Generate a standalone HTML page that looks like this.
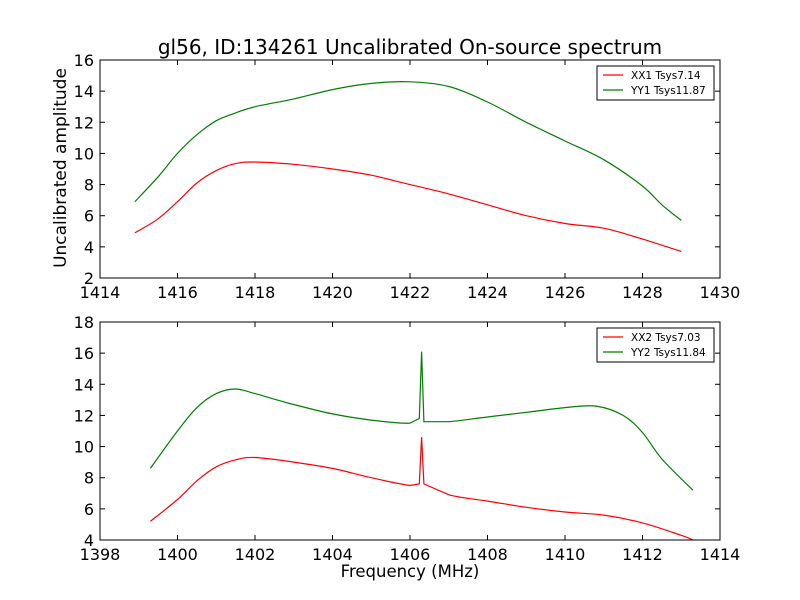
<!DOCTYPE html>
<html><head><meta charset="utf-8"><style>
body{margin:0;background:#fff;}
svg{display:block;font-family:"DejaVu Sans","Liberation Sans",sans-serif;}
</style></head><body>
<svg id="c" width="800" height="600" viewBox="0 0 800 600"></svg>
<script>
const topXX1X=[1414.9,1415.5,1416,1416.5,1417,1417.5,1418,1419,1420,1421,1422,1423,1424,1425,1426,1427,1428,1429];
const topXX1Y=[4.9,5.8,6.9,8.1,8.9,9.35,9.45,9.3,9.0,8.6,8.0,7.4,6.7,6.0,5.5,5.2,4.5,3.7];
const topYY1X=[1414.9,1415.5,1416,1416.5,1417,1417.5,1418,1419,1420,1421,1422,1423,1424,1425,1426,1427,1428,1428.5,1429];
const topYY1Y=[6.9,8.5,10.0,11.2,12.1,12.6,13.0,13.5,14.1,14.5,14.6,14.3,13.3,12.0,10.8,9.6,7.9,6.7,5.7];
const botXX2X=[1399.3,1400,1400.5,1401,1401.5,1402,1403,1404,1405,1406,1406.24,1406.3,1406.36,1407,1408,1409,1410,1411,1412,1413,1413.3];
const botXX2Y=[5.2,6.6,7.8,8.7,9.15,9.3,9.0,8.6,8.0,7.5,7.6,10.6,7.6,6.9,6.5,6.1,5.8,5.6,5.1,4.3,4.0];
const botYY2X=[1399.3,1400,1400.5,1401,1401.5,1402,1403,1404,1405,1406,1406.24,1406.3,1406.36,1407,1408,1409,1410,1410.8,1411.5,1412,1412.5,1413.3];
const botYY2Y=[8.6,11.0,12.5,13.4,13.7,13.4,12.7,12.1,11.7,11.5,11.8,16.1,11.6,11.6,11.9,12.2,12.5,12.6,12.0,10.9,9.2,7.2];
const topXTicks=[1414,1416,1418,1420,1422,1424,1426,1428,1430];
const topYTicks=[2,4,6,8,10,12,14,16];
const botXTicks=[1398,1400,1402,1404,1406,1408,1410,1412,1414];
const botYTicks=[4,6,8,10,12,14,16,18];
const topLegend=["XX1 Tsys7.14","YY1 Tsys11.87"];
const botLegend=["XX2 Tsys7.03","YY2 Tsys11.84"];

const svg=document.getElementById('c');
const NS='http://www.w3.org/2000/svg';
function mk(t,a,txt){const e=document.createElementNS(NS,t);for(const k in a)e.setAttribute(k,a[k]);if(txt!==undefined)e.textContent=txt;svg.appendChild(e);return e;}

function smoothPath(px,py,xs){
  let d='M'+px[0].toFixed(1)+','+py[0].toFixed(1);
  const spike=v=>Math.abs(v-1406.3)<0.2;
  for(let i=0;i<px.length-1;i++){
    if(spike(xs[i])||spike(xs[i+1])){d+=' L'+px[i+1].toFixed(1)+','+py[i+1].toFixed(1);continue;}
    const i0=Math.max(0,i-1),i3=Math.min(px.length-1,i+2);
    const c1x=px[i]+(px[i+1]-px[i0])/6,c1y=py[i]+(py[i+1]-py[i0])/6;
    const c2x=px[i+1]-(px[i3]-px[i])/6,c2y=py[i+1]-(py[i3]-py[i])/6;
    d+=' C'+c1x.toFixed(1)+','+c1y.toFixed(1)+' '+c2x.toFixed(1)+','+c2y.toFixed(1)+' '+px[i+1].toFixed(1)+','+py[i+1].toFixed(1);
  }
  return d;
}

function panel(name,top,xmin,xmax,ymin,ymax,xt,yt,series,legend){
  const L=100,R=720,T=top,B=top+218;
  const sx=v=>L+(v-xmin)/(xmax-xmin)*(R-L);
  const sy=v=>B-(v-ymin)/(ymax-ymin)*(B-T);
  xt.forEach(v=>{
    const x=sx(v);
    const t1=mk('line',{x1:x,x2:x,y1:B,y2:B-5,stroke:'#000'});
    
    
    mk('line',{x1:x,x2:x,y1:T,y2:T+5,stroke:'#000'});
    const l=mk('text',{x:x,y:B+20,'font-size':'16','text-anchor':'middle'},String(v));
    
    
  });
  yt.forEach(v=>{
    const y=sy(v);
    mk('line',{x1:L,x2:L+5,y1:y,y2:y,stroke:'#000'});
    mk('line',{x1:R,x2:R-5,y1:y,y2:y,stroke:'#000'});
    const l=mk('text',{x:L-6,y:y+6,'font-size':'16','text-anchor':'end'},String(v));
    
    
  });
  series.forEach(s=>{
    const d=smoothPath(s.x.map(sx),s.y.map(sy),s.x);
    const p=mk('path',{d:d,fill:'none',stroke:s.c,'stroke-width':'1.2'});
    
    
  });
  const fr=mk('rect',{x:L,y:T,width:R-L,height:B-T,fill:'none',stroke:'#000','stroke-width':'1'});
  
  
  const lg=mk('rect',{x:597,y:T+6,width:117,height:34,fill:'#fff',stroke:'#000'});
  
  
  legend.forEach((t,i)=>{
    const y=T+15+i*15;
    mk('line',{x1:603,x2:623,y1:y,y2:y,stroke:series[i].c,'stroke-width':'1.2'});
    const e=mk('text',{x:631,y:y+4,'font-size':'10.5'},t);
    
    
  });
}
panel('top-panel',60,1414,1430,2,16,topXTicks,topYTicks,
  [{x:topXX1X,y:topXX1Y,c:'#ff0000',n:'series-xx1'},{x:topYY1X,y:topYY1Y,c:'#007f00',n:'series-yy1'}],topLegend);
panel('bottom-panel',322,1398,1414,4,18,botXTicks,botYTicks,
  [{x:botXX2X,y:botXX2Y,c:'#ff0000',n:'series-xx2'},{x:botYY2X,y:botYY2Y,c:'#007f00',n:'series-yy2'}],botLegend);
const title=mk('text',{x:410,y:54,'font-size':'20','text-anchor':'middle'},'gl56, ID:134261 Uncalibrated On-source spectrum');


const yl=mk('text',{x:0,y:0,'font-size':'17','text-anchor':'middle',transform:'translate(66,168) rotate(-90)'},'Uncalibrated amplitude');


const xl=mk('text',{x:410,y:577,'font-size':'16.5','text-anchor':'middle'},'Frequency (MHz)');


</script>
</body></html>
